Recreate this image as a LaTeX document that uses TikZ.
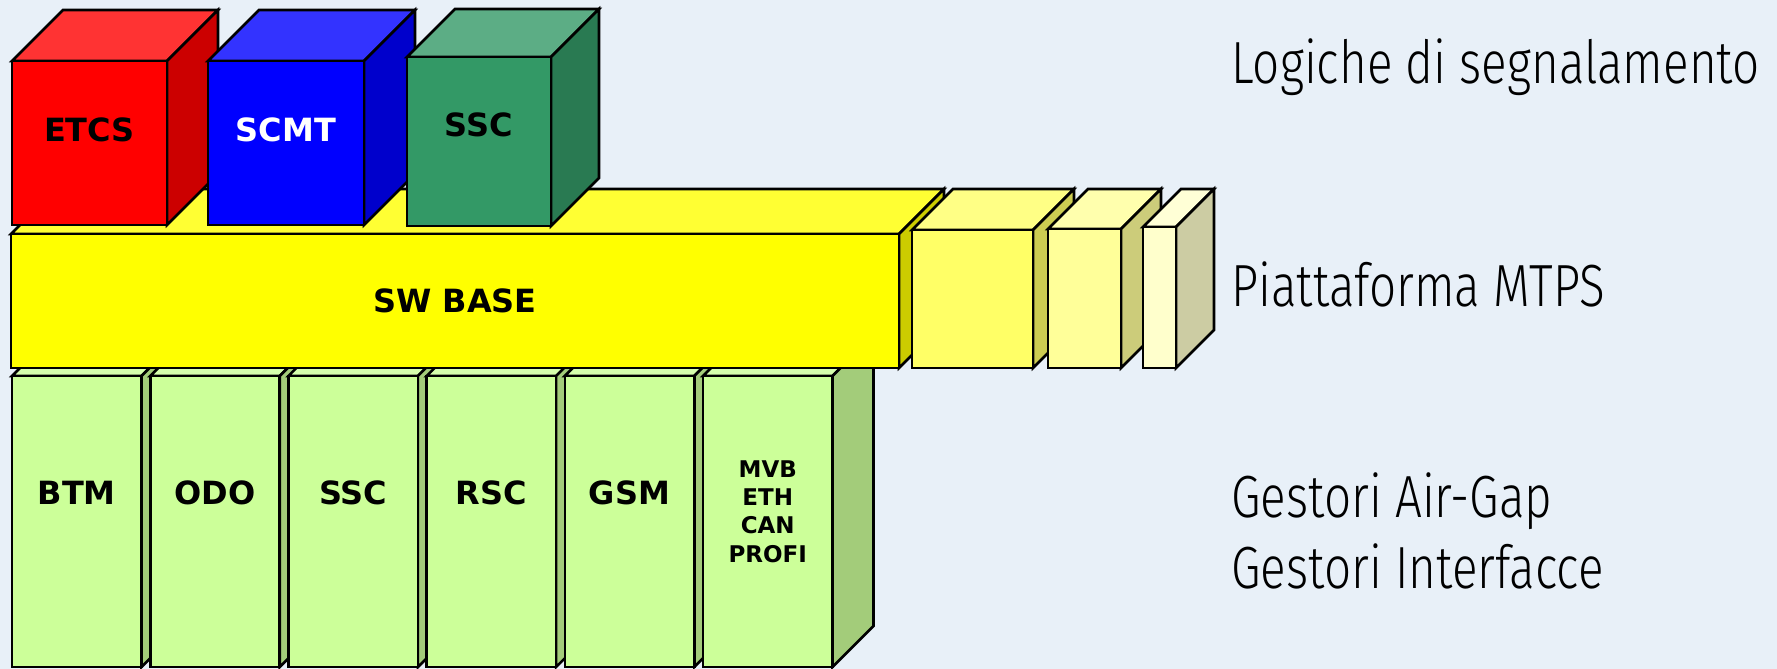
\documentclass[tikz,border=0pt]{standalone}
\usepackage{fontspec}
\usepackage{tikz}
\usetikzlibrary{positioning}

\newfontfamily\blockfont{DejaVu Sans}
\newfontfamily\sidefont{Fira Sans Light}[FakeStretch=0.80]

\definecolor{bgblue}{HTML}{E8F0F8}
\definecolor{etcsfront}{HTML}{FF0000}
\definecolor{etcstop}{HTML}{FF3333}
\definecolor{etcsside}{HTML}{CC0000}
\definecolor{scmtfront}{HTML}{0000FF}
\definecolor{scmttop}{HTML}{3333FF}
\definecolor{scmtside}{HTML}{0000CC}
\definecolor{sscfront}{HTML}{339966}
\definecolor{ssctop}{HTML}{5CAD85}
\definecolor{sscside}{HTML}{297A52}
\definecolor{basefront}{HTML}{FFFF00}
\definecolor{basetop}{HTML}{FFFF33}
\definecolor{baseside}{HTML}{CCCC00}
\definecolor{slotafront}{HTML}{FFFF66}
\definecolor{slotatop}{HTML}{FFFF85}
\definecolor{slotaside}{HTML}{CCCC52}
\definecolor{slotbfront}{HTML}{FFFF99}
\definecolor{slotbtop}{HTML}{FFFFAD}
\definecolor{slotbside}{HTML}{CCCC7A}
\definecolor{slotcfront}{HTML}{FFFFCC}
\definecolor{slotctop}{HTML}{FFFFD6}
\definecolor{slotcside}{HTML}{CCCCA3}
\definecolor{gwfront}{HTML}{CCFF99}
\definecolor{gwtop}{HTML}{D6FFAD}
\definecolor{gwside}{HTML}{A3CC7A}

% cuboid: name, front top-left x/y, width, height, depth, front/top/side colours
\newcommand{\drawblock}[9]{%
  \filldraw[blockline,fill=#8] (#2,#3) -- ++(#6,-#6) -- ++(#4,0) -- ++(-#6,#6) -- cycle;
  \filldraw[blockline,fill=#9] (#2+#4,#3) -- ++(#6,-#6) -- ++(0,#5) -- ++(-#6,#6) -- cycle;
  \filldraw[blockline,fill=#7] (#2,#3) rectangle ++(#4,#5);
  \coordinate (#1) at (#2+0.5*#4,#3+0.5*#5);
}

\begin{document}
\begin{tikzpicture}[
  x=0.5pt, y=-0.5pt,
  blockline/.style={draw=black,line width=1.3pt},
  blocklabel/.style={font=\blockfont\bfseries\fontsize{16}{19}\selectfont,inner sep=0pt},
  smalllabel/.style={font=\blockfont\bfseries\fontsize{11.5}{14.2}\selectfont,inner sep=0pt,align=center},
  layerlabel/.style={font=\sidefont\fontsize{29.75}{35.5}\selectfont,inner sep=0pt,anchor=base west}
]
  \fill[bgblue] (0,0) rectangle (1777,669);
  \useasboundingbox (0,0) rectangle (1777,669);

  % air-gap and interface handlers
  \foreach \name/\lbl [count=\i from 0] in {btm/BTM,odo/ODO,ssc/SSC,rsc/RSC,gsm/GSM} {
    \drawblock{\name}{12+138.2*\i}{376}{129.5}{291}{41}{gwfront}{gwtop}{gwside}
    \node[blocklabel] (\name-text) at ([yshift=14.25pt]\name) {\lbl};
  }
  \drawblock{bus}{703}{376}{129.5}{291}{41}{gwfront}{gwtop}{gwside}
  \node[smalllabel] (bus-text) at ([yshift=5pt]bus) {MVB\\ETH\\CAN\\PROFI};

  % MTPS platform
  \drawblock{base}{11}{234}{888}{134}{45}{basefront}{basetop}{baseside}
  \node[blocklabel] (base-text) at (base) {SW BASE};
  \drawblock{slota}{912}{230}{121}{138}{41}{slotafront}{slotatop}{slotaside}
  \drawblock{slotb}{1048}{229}{73}{139}{40}{slotbfront}{slotbtop}{slotbside}
  \drawblock{slotc}{1143}{227}{33}{141}{38}{slotcfront}{slotctop}{slotcside}

  % signalling logics
  \drawblock{etcs}{12}{61}{155}{164}{51}{etcsfront}{etcstop}{etcsside}
  \node[blocklabel] (etcs-text) at ([yshift=6.5pt]etcs) {ETCS};
  \drawblock{scmt}{208}{61}{156}{164}{51}{scmtfront}{scmttop}{scmtside}
  \node[blocklabel,text=white] (scmt-text) at ([yshift=6.5pt]scmt) {SCMT};
  \drawblock{sscl}{407}{57}{144}{169}{48}{sscfront}{ssctop}{sscside}
  \node[blocklabel] (sscl-text) at ([yshift=8.25pt]sscl) {SSC};

  % layer names
  \node[layerlabel] (logiche) at (1231,83) {Logiche di segnalamento};
  \node[layerlabel] (piattaforma) at (1231,306) {Piattaforma MTPS};
  \node[layerlabel] (airgap) at (1231,517) {Gestori Air-Gap};
  \node[layerlabel] (interfacce) at (1231,588) {Gestori Interfacce};
\end{tikzpicture}
\end{document}
